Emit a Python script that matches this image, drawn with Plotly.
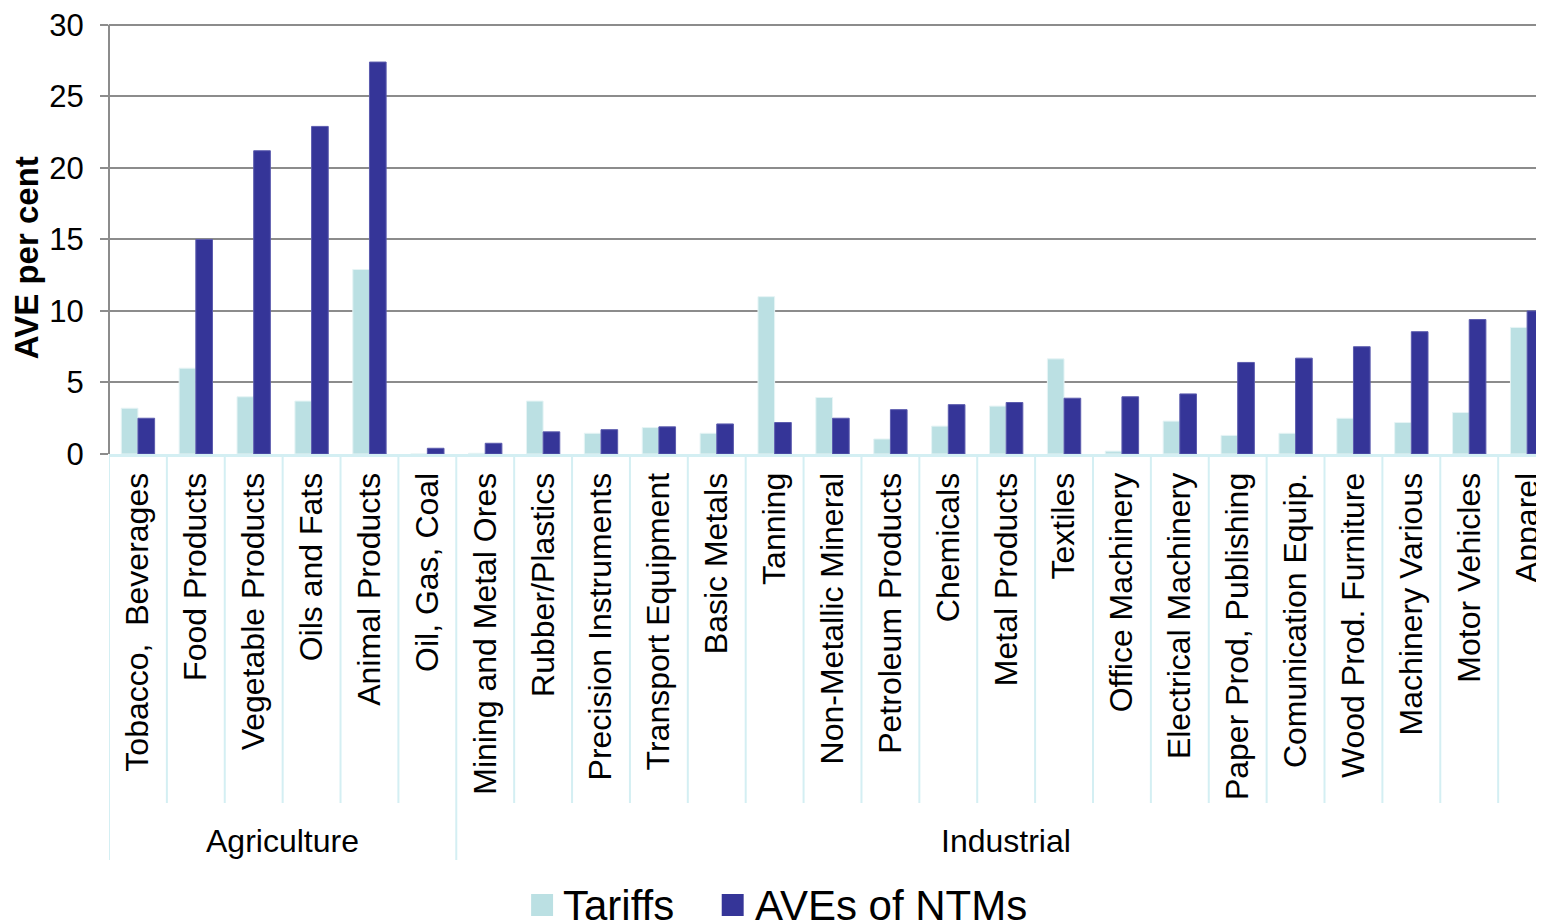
import plotly.graph_objects as go

categories = ["Tobacco,  Beverages", "Food Products", "Vegetable Products", "Oils and Fats",
              "Animal Products", "Oil, Gas, Coal", "Mining and Metal Ores", "Rubber/Plastics",
              "Precision Instruments", "Transport Equipment", "Basic Metals", "Tanning",
              "Non-Metallic Mineral", "Petroleum Products", "Chemicals", "Metal Products",
              "Textiles", "Office Machinery", "Electrical Machinery", "Paper Prod, Publishing",
              "Comunication Equip.", "Wood Prod. Furniture", "Machinery Various",
              "Motor Vehicles", "Apparel"]
tariffs = [3.2, 6.0, 4.0, 3.7, 12.9, 0.0, 0.05, 3.7, 1.45, 1.85, 1.45, 11.0, 3.95, 1.05,
           1.95, 3.35, 6.65, 0.2, 2.3, 1.3, 1.45, 2.5, 2.2, 2.9, 8.85]
ntms = [2.5, 15.0, 21.2, 22.9, 27.4, 0.4, 0.75, 1.55, 1.7, 1.9, 2.1, 2.2, 2.5, 3.1, 3.45,
        3.6, 3.9, 4.0, 4.2, 6.4, 6.7, 7.5, 8.55, 9.4, 10.0]
groups = [("Agriculture", 6), ("Industrial", 19)]
y_ticks = [0, 5, 10, 15, 20, 25, 30]
series_names = ["Tariffs", "AVEs of NTMs"]

TARIFF_COLOR = "#BBE0E3"
NTM_COLOR = "#353598"
SEP_COLOR = "#D4EFF3"
GRID_COLOR = "#8C8C8C"
FONT = "Liberation Sans, Arial, sans-serif"

# page has an 8px body margin: layout size is the window minus that offset
OFF = 8
W, H = 1544 - OFF, 922 - OFF
ml, mt, mb = 101, 14, 468
plot_w = W - ml
plot_h = H - mt - mb

def px_x(sx):
    # screenshot pixel x -> paper x
    return (sx - OFF - ml) / plot_w

def px_y(sy):
    # screenshot pixel y -> paper y
    return (H - mb - (sy - OFF)) / plot_h

fig = go.Figure()
fig.add_trace(go.Bar(name=series_names[0], x=categories, y=tariffs, marker_color=TARIFF_COLOR,
                     marker_line=dict(color="#E6F4F5", width=1), showlegend=False))
fig.add_trace(go.Bar(name=series_names[1], x=categories, y=ntms, marker_color=NTM_COLOR,
                     marker_line=dict(color="#5C5CAE", width=1), showlegend=False))

shapes = []
for i in range(len(categories) + 1):
    shapes.append(dict(type="line", xref="x", yref="paper", x0=i - 0.5, x1=i - 0.5,
                       y0=0, y1=px_y(803), line=dict(color=SEP_COLOR, width=2), layer="above"))
start = 0
bounds = [0]
for name, n in groups:
    start += n
    bounds.append(start)
for b in bounds:
    shapes.append(dict(type="line", xref="x", yref="paper", x0=b - 0.5, x1=b - 0.5,
                       y0=px_y(803), y1=px_y(860), line=dict(color=SEP_COLOR, width=2)))

annotations = []
start = 0
for name, n in groups:
    center = start + (n - 1) / 2
    annotations.append(dict(text=name, xref="x", yref="paper", x=center, y=px_y(841),
                            showarrow=False, font=dict(family=FONT, size=32, color="#000"),
                            xanchor="center", yanchor="middle"))
    start += n
annotations.append(dict(text="<b>AVE per cent</b>", xref="paper", yref="paper",
                        x=px_x(26), y=px_y(258), textangle=-90, showarrow=False,
                        font=dict(family=FONT, size=33, color="#000"),
                        xanchor="center", yanchor="middle"))

# manual legend (large swatches)
legend_items = [(series_names[0], TARIFF_COLOR, 532, 562), (series_names[1], NTM_COLOR, 723, 754)]
for name, color, sq_x, tx_x in legend_items:
    shapes.append(dict(type="rect", xref="paper", yref="paper", x0=px_x(sq_x), x1=px_x(sq_x + 22),
                       y0=px_y(916), y1=px_y(894), fillcolor=color, line=dict(width=0)))
    annotations.append(dict(text=name, xref="paper", yref="paper", x=px_x(tx_x), y=px_y(905),
                            showarrow=False, font=dict(family=FONT, size=42, color="#000"),
                            xanchor="left", yanchor="middle"))

fig.update_layout(
    width=W, height=H,
    margin=dict(l=ml, r=0, t=mt, b=mb, pad=0),
    paper_bgcolor="white", plot_bgcolor="white",
    barmode="group", bargap=0.424, bargroupgap=0,
    font=dict(family=FONT, color="#000"),
    shapes=shapes, annotations=annotations, showlegend=False,
    xaxis=dict(type="category", range=[-0.5, len(categories) - 0.76], tickangle=-90,
               tickfont=dict(family=FONT, size=32, color="#000"), showline=True,
               linecolor=SEP_COLOR, linewidth=3, ticks="", showgrid=False, fixedrange=True,
               ticklabelstandoff=3),
    yaxis=dict(range=[0, 30.2], tickvals=y_ticks, ticktext=[str(v) for v in y_ticks],
               tickfont=dict(family=FONT, size=31, color="#000"), showgrid=True,
               gridcolor=GRID_COLOR, gridwidth=2, showline=False,
               ticks="outside", ticklen=8, tickcolor=GRID_COLOR, tickwidth=2,
               zeroline=False, ticklabelstandoff=10, ticklabeloverflow="allow"),
)
# y axis line spanning 0..30 only (as in the reference)
fig.add_shape(type="line", xref="paper", yref="y", x0=0, x1=0, y0=0, y1=y_ticks[-1],
              line=dict(color=GRID_COLOR, width=2))

fig.write_html("out.html")
